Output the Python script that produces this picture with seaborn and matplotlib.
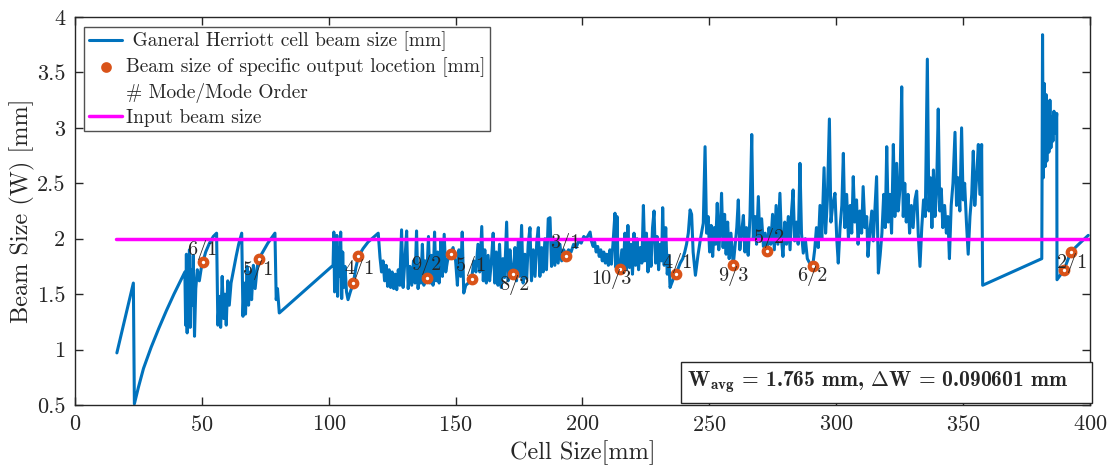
import seaborn as sns
import matplotlib.pyplot as plt
import pandas as pd
import numpy as np
from matplotlib.ticker import FuncFormatter
from matplotlib.patches import Rectangle

# General Herriott cell beam size trace
cell_size = [
    16.5, 23.0, 23.4, 25.0, 27.0, 30.0, 33.0, 36.0, 39.0, 42.0, 43.3,
    43.6, 43.9, 44.2, 44.5, 44.8, 45.1, 45.4, 45.8, 46.2, 46.6, 47.1, 47.6, 48.2, 49.0, 49.8, 50.4,
    51.5, 53.0, 54.5, 55.8, 56.3, 56.9, 57.4, 58.0, 58.6, 59.1, 59.6, 60.2, 60.8, 61.5, 62.5, 63.5,
    64.5, 65.7, 66.2, 66.7, 67.2, 67.8, 68.4, 69.0, 69.6, 70.3, 71.0, 71.8, 72.5, 74.0, 76.0, 78.8,
    79.3, 79.8, 80.5, 101.7,
    102.0, 102.3, 102.6, 102.9, 103.2, 103.5, 103.9, 104.3, 104.7, 105.1, 105.5, 105.9, 106.4, 107.0,
    107.6, 108.5, 109.7, 110.7, 111.7, 113.5, 115.5, 117.5, 119.5,
    120.2, 120.8, 121.4, 122.0, 122.6, 123.2, 123.8, 124.4, 125.0, 125.6, 126.2, 126.8, 127.4, 128.0,
    128.7, 129.3, 130.0, 130.7, 131.3, 132.0, 132.7, 133.4, 134.0, 134.6, 135.2, 135.8, 136.3, 136.9,
    137.5, 138.0, 138.6, 139.3, 139.9, 140.5, 141.1, 141.7, 142.3, 142.9, 143.5, 144.2, 144.8, 145.5,
    146.1, 146.8, 147.4, 148.0, 149.0, 150.0, 150.7, 151.3, 152.0, 152.6, 153.2, 154.0, 155.0, 156.3,
    157.2, 158.0, 158.8, 159.5, 160.3,
    160.9, 161.5, 162.1, 162.8, 163.4, 164.1, 164.8, 165.4, 166.0, 166.7, 167.3, 168.0, 168.6, 169.3,
    170.1, 170.7, 171.4, 172.0, 172.7, 173.4, 174.0, 174.7, 175.3, 176.0, 176.6, 177.3, 178.0, 178.6,
    179.3, 179.9, 180.6, 181.3, 182.0, 182.6, 183.2, 183.9, 184.5, 185.2, 185.8, 186.5, 187.2, 187.8,
    188.5, 189.1, 189.8, 190.4, 191.1, 191.8, 192.6, 193.4, 194.5, 195.5, 196.5, 197.5, 198.5, 199.5,
    200.5, 201.5, 203.0,
    203.5, 204.2, 204.8, 205.4, 206.0, 206.6, 207.2, 207.8, 208.4, 209.0, 209.6, 210.2, 210.8, 211.4,
    212.0, 212.8, 213.2, 213.6, 214.0, 214.8,
    215.5, 216.1, 216.7, 217.3, 217.9, 218.5, 219.1, 219.7, 220.3, 220.9, 221.5, 222.1, 222.7, 223.4,
    224.0, 224.6, 225.2, 225.8, 226.4, 227.0, 227.6, 228.2, 228.8, 229.4, 230.0, 230.6, 231.2, 231.6,
    232.2, 232.8, 233.4, 234.0, 234.5, 235.5, 236.5,
    237.5, 238.5, 239.5, 240.3, 241.0, 241.7, 242.4, 243.0, 243.6, 244.5, 245.5, 246.5, 247.6, 248.3,
    248.9, 249.5, 250.1, 250.7, 251.3, 251.9, 252.5, 253.1, 253.7, 254.3, 254.8, 255.4, 256.0, 256.6,
    257.2, 257.8, 258.5, 259.4, 260.2, 260.8, 261.4, 262.0, 262.7, 263.4, 264.0, 264.6, 265.3, 266.0,
    266.7, 267.3, 268.0, 268.6, 269.3, 269.9, 270.6, 271.3, 272.0, 272.8, 273.5, 274.2, 274.9, 275.6,
    276.3, 277.0, 277.8, 278.4, 279.0, 279.7, 280.4, 281.1, 281.8, 282.4, 283.0, 283.6, 284.3, 285.0,
    285.7, 286.3, 287.0, 287.8, 288.6, 289.5, 290.7, 291.5, 292.2, 292.9, 293.6, 294.3, 295.2, 295.8,
    296.5, 297.3, 297.9, 298.6, 299.5, 300.2, 300.8, 301.5, 302.2, 302.8, 303.4, 304.1, 304.8, 305.5,
    306.1, 306.7, 307.3, 308.0, 308.6, 309.3, 310.0, 310.6, 311.3, 312.0, 312.5, 313.2, 314.0, 314.6,
    315.3, 315.9, 316.6,
    317.3, 318.0, 318.7, 319.3, 319.9, 320.5, 321.1, 321.8, 322.5, 323.1, 323.8, 324.4, 325.1, 325.8,
    326.4, 327.0, 327.6, 328.3, 328.9, 329.6, 330.3, 331.0, 331.7, 332.3, 333.0, 333.7, 334.4, 335.1,
    335.9, 336.5, 337.1, 337.7, 338.3, 338.9, 339.5, 340.2, 340.8, 341.4, 342.0, 342.7, 343.4, 344.0,
    344.6, 345.3, 346.0, 346.8, 347.4, 348.0, 348.7, 349.4, 350.0, 350.6, 351.3, 352.0, 352.7, 353.4,
    354.0, 354.6, 355.3, 356.0, 356.6, 357.3, 357.5, 357.7,
    381.0, 381.3, 381.6, 382.0, 382.3, 382.7, 383.0, 383.4, 383.8, 384.2, 384.6, 385.0, 385.4, 385.8,
    386.3, 386.9, 387.0, 389.8, 392.4, 396.0, 399.3,
]
beam_size = [
    0.97, 1.60, 0.51, 0.66, 0.83, 1.02, 1.19, 1.35, 1.50, 1.64, 1.70,
    1.22, 1.86, 1.15, 1.80, 1.30, 1.90, 1.20, 1.72, 1.40, 1.85, 1.12, 1.55, 1.72, 1.62, 1.74, 1.79,
    1.88, 1.96, 2.02, 2.05, 1.22, 1.48, 1.20, 1.66, 1.28, 1.50, 1.22, 1.62, 1.40, 1.60, 1.72, 1.84,
    1.95, 2.05, 1.30, 1.60, 1.32, 1.75, 1.40, 1.70, 1.45, 1.76, 1.55, 1.74, 1.82, 1.88, 1.96, 2.05,
    1.45, 1.55, 1.33, 1.76,
    2.06, 1.52, 1.96, 1.62, 2.03, 1.48, 1.92, 1.66, 2.06, 1.46, 1.88, 1.56, 1.75, 1.52,
    1.45, 1.52, 1.60, 1.74, 1.84, 1.91, 1.97, 2.01, 2.05,
    1.83, 1.70, 1.80, 1.62, 1.76, 1.57, 1.72, 1.56, 1.70, 1.55, 1.68, 1.54, 1.72, 1.58,
    2.08, 1.56, 1.80, 2.07, 1.55, 1.75, 1.58, 1.80, 1.60, 2.07, 1.55, 1.72, 1.60, 1.95,
    1.58, 1.80, 1.65, 2.02, 1.60, 1.85, 1.58, 2.06, 1.62, 1.88, 1.60, 1.98, 1.66, 2.04,
    1.70, 1.80, 1.84, 1.86, 1.92, 1.80, 1.58, 1.90, 1.66, 2.06, 1.51, 1.58, 1.60, 1.64,
    1.80, 1.70, 1.95, 1.70, 2.11,
    1.62, 1.90, 1.60, 1.85, 1.62, 1.80, 2.05, 1.60, 1.88, 1.58, 1.95, 1.56, 1.82, 1.65,
    2.15, 1.62, 1.90, 1.70, 1.68, 1.92, 1.62, 1.98, 1.66, 2.12, 1.60, 1.86, 1.64, 1.95,
    2.10, 1.62, 1.90, 1.66, 1.98, 2.10, 1.66, 1.92, 1.70, 2.00, 1.72, 2.18, 2.19, 1.75,
    2.00, 1.76, 1.98, 1.78, 1.95, 1.80, 1.90, 1.85, 1.90, 1.88, 1.95, 1.92, 1.98, 1.96,
    2.02, 2.00, 2.06,
    1.98, 1.93, 1.97, 1.88, 1.93, 1.84, 1.90, 1.80, 1.88, 1.78, 1.86, 1.76, 1.90, 1.77,
    1.95, 2.23, 1.74, 2.20, 1.76, 1.73,
    1.90, 1.70, 2.05, 1.72, 2.12, 1.74, 1.95, 1.68, 2.05, 1.76, 2.00, 1.72, 1.92, 1.78,
    2.30, 1.80, 2.05, 1.70, 1.98, 1.75, 2.10, 2.25, 1.78, 2.02, 1.72, 1.95, 1.80, 2.28,
    1.76, 2.10, 1.68, 1.85, 1.56, 1.62, 1.69,
    1.72, 1.78, 1.82, 1.88, 1.95, 2.05, 2.26, 2.22, 1.88, 1.67, 1.85, 2.00, 2.14, 2.83,
    2.05, 2.20, 1.88, 2.12, 1.84, 2.10, 1.95, 2.32, 1.90, 2.10, 2.41, 1.92, 2.22, 1.86,
    2.15, 1.82, 2.05, 1.76, 1.95, 2.10, 2.35, 1.90, 2.05, 2.21, 1.88, 2.10, 1.85, 2.20,
    2.94, 2.00, 2.20, 1.95, 2.38, 1.98, 2.18, 1.93, 2.05, 1.89, 2.10, 1.95, 2.22, 1.90,
    2.30, 1.95, 2.41, 2.00, 1.84, 2.15, 1.95, 2.20, 1.90, 2.25, 2.44, 1.98, 2.15, 1.95,
    2.68, 2.05, 1.87, 2.00, 1.82, 1.78, 1.75, 1.90, 2.10, 1.92, 2.30, 2.00, 2.64, 2.05,
    2.35, 3.08, 2.15, 2.30, 2.41, 2.00, 1.78, 2.10, 2.30, 2.77, 2.10, 2.40, 2.00, 2.30,
    2.05, 2.56, 2.15, 2.35, 1.95, 2.25, 2.05, 2.47, 2.10, 2.20, 1.84, 2.05, 2.25, 1.98,
    2.30, 2.56, 1.69,
    1.85, 2.05, 2.40, 2.10, 2.83, 2.15, 2.40, 2.05, 2.85, 2.20, 2.68, 2.25, 2.45, 3.37,
    2.20, 2.50, 2.15, 2.40, 2.05, 2.30, 2.10, 2.35, 2.43, 2.05, 1.75, 2.10, 2.35, 2.20,
    3.62, 2.25, 2.55, 2.10, 2.62, 2.20, 2.40, 3.17, 2.25, 2.45, 2.10, 2.30, 2.05, 2.20,
    1.82, 2.30, 2.50, 2.96, 2.30, 2.55, 2.25, 3.00, 2.35, 2.50, 2.15, 1.86, 2.20, 2.40,
    2.79, 2.30, 2.55, 2.85, 2.40, 2.85, 2.17, 1.58,
    1.82, 3.84, 2.55, 3.40, 2.65, 3.30, 2.70, 3.20, 2.78, 3.25, 2.82, 3.10, 2.88, 3.15,
    2.95, 3.13, 1.63, 1.72, 1.88, 1.96, 2.03,
]

# specific output locations (mode / mode order)
mode_x = [50.4, 72.5, 109.7, 111.7, 138.6, 148.0, 156.3, 172.7, 193.4, 214.8,
          236.8, 259.4, 272.8, 290.7, 389.9, 392.4]
mode_w = [1.79, 1.82, 1.60, 1.84, 1.65, 1.86, 1.64, 1.68, 1.845, 1.73,
          1.685, 1.76, 1.89, 1.75, 1.72, 1.88]

label_text = ["6/1", "5/1", "4/1", "9/2", "5/1", "8/2", "3/1", "10/3",
              "4/1", "9/3", "5/2", "6/2", "2/1"]
label_x = [50.2, 72.2, 112.0, 138.6, 156.3, 173.0, 193.1, 211.5,
           237.5, 259.3, 273.5, 290.5, 392.8]
label_y = [1.90, 1.72, 1.73, 1.76, 1.75, 1.58, 1.96, 1.64,
           1.78, 1.66, 2.01, 1.66, 1.78]

input_x = [16.0, 400.0]
input_w = [2.0, 2.0]

sns.set_style("ticks")
plt.rcParams['font.family'] = ['cmr10', 'DejaVu Serif']
plt.rcParams['mathtext.fontset'] = 'cm'
plt.rcParams['axes.formatter.use_mathtext'] = True

fig = plt.figure(figsize=(11.16, 4.67), dpi=100)
ax = fig.add_axes([0.0672, 0.1328, 0.9095, 0.8308])

trace = pd.DataFrame({'cell': cell_size, 'beam': beam_size})
sns.lineplot(data=trace, x='cell', y='beam', sort=False, estimator=None,
             color='#0072BD', linewidth=2.2, ax=ax,
             label=' Ganeral Herriott cell beam size [mm]')
sns.scatterplot(x=mode_x, y=mode_w, color='white', edgecolor='#D95319',
                linewidth=3.0, s=30, ax=ax, zorder=4,
                label='Beam size of specific output locetion [mm]')
ax.plot([], [], ' ', label='# Mode/Mode Order')
sns.lineplot(x=input_x, y=input_w, color='#FF00FF', linewidth=2.5, ax=ax,
             label='Input beam size')

for t, lx, ly in zip(label_text, label_x, label_y):
    ax.text(lx, ly, t, ha='center', va='center', fontsize=14.5, zorder=5)

ax.set_xlim(0, 400)
ax.set_ylim(0.5, 4)
ax.set_xticks(np.arange(0, 401, 50))
ax.set_yticks(np.arange(0.5, 4.01, 0.5))
ax.yaxis.set_major_formatter(FuncFormatter(lambda v, p: f'{v:g}'))
ax.tick_params(direction='in', top=True, right=True, length=6, width=1,
               labelsize=16, colors='#262626', pad=7)
for s in ax.spines.values():
    s.set_linewidth(1.0)
    s.set_color('#262626')
ax.set_xlabel('Cell Size[mm]', fontsize=17.5, labelpad=4)
ax.set_ylabel('Beam Size (W) [mm]', fontsize=17.5, labelpad=1)

leg = ax.legend(loc='upper left', bbox_to_anchor=(0.009, 0.975), fontsize=14,
                frameon=True, fancybox=False, edgecolor='#262626',
                handlelength=1.7, handletextpad=0.2, borderpad=0.25,
                labelspacing=0.3, borderaxespad=0)
leg.get_frame().set_linewidth(1.0)
# legend marker drawn as a small filled dot
leg.legend_handles[1].set_facecolor('#D95319')
leg.legend_handles[1].set_sizes([22])

# statistics box in the lower right corner
ax.add_patch(Rectangle((0.597, 0.005), 0.405, 0.106, transform=ax.transAxes,
                       facecolor='white', edgecolor='#262626', linewidth=1.0,
                       clip_on=False, zorder=6))
ax.text(0.603, 0.058,
        r'$\mathbf{W_{avg}}$ = 1.765 mm, $\mathbf{\Delta}$W = 0.090601 mm',
        transform=ax.transAxes, fontsize=15.5, ha='left', va='center',
        family=['cmb10', 'DejaVu Serif'], zorder=7)

fig.savefig('out.png', dpi=100)
